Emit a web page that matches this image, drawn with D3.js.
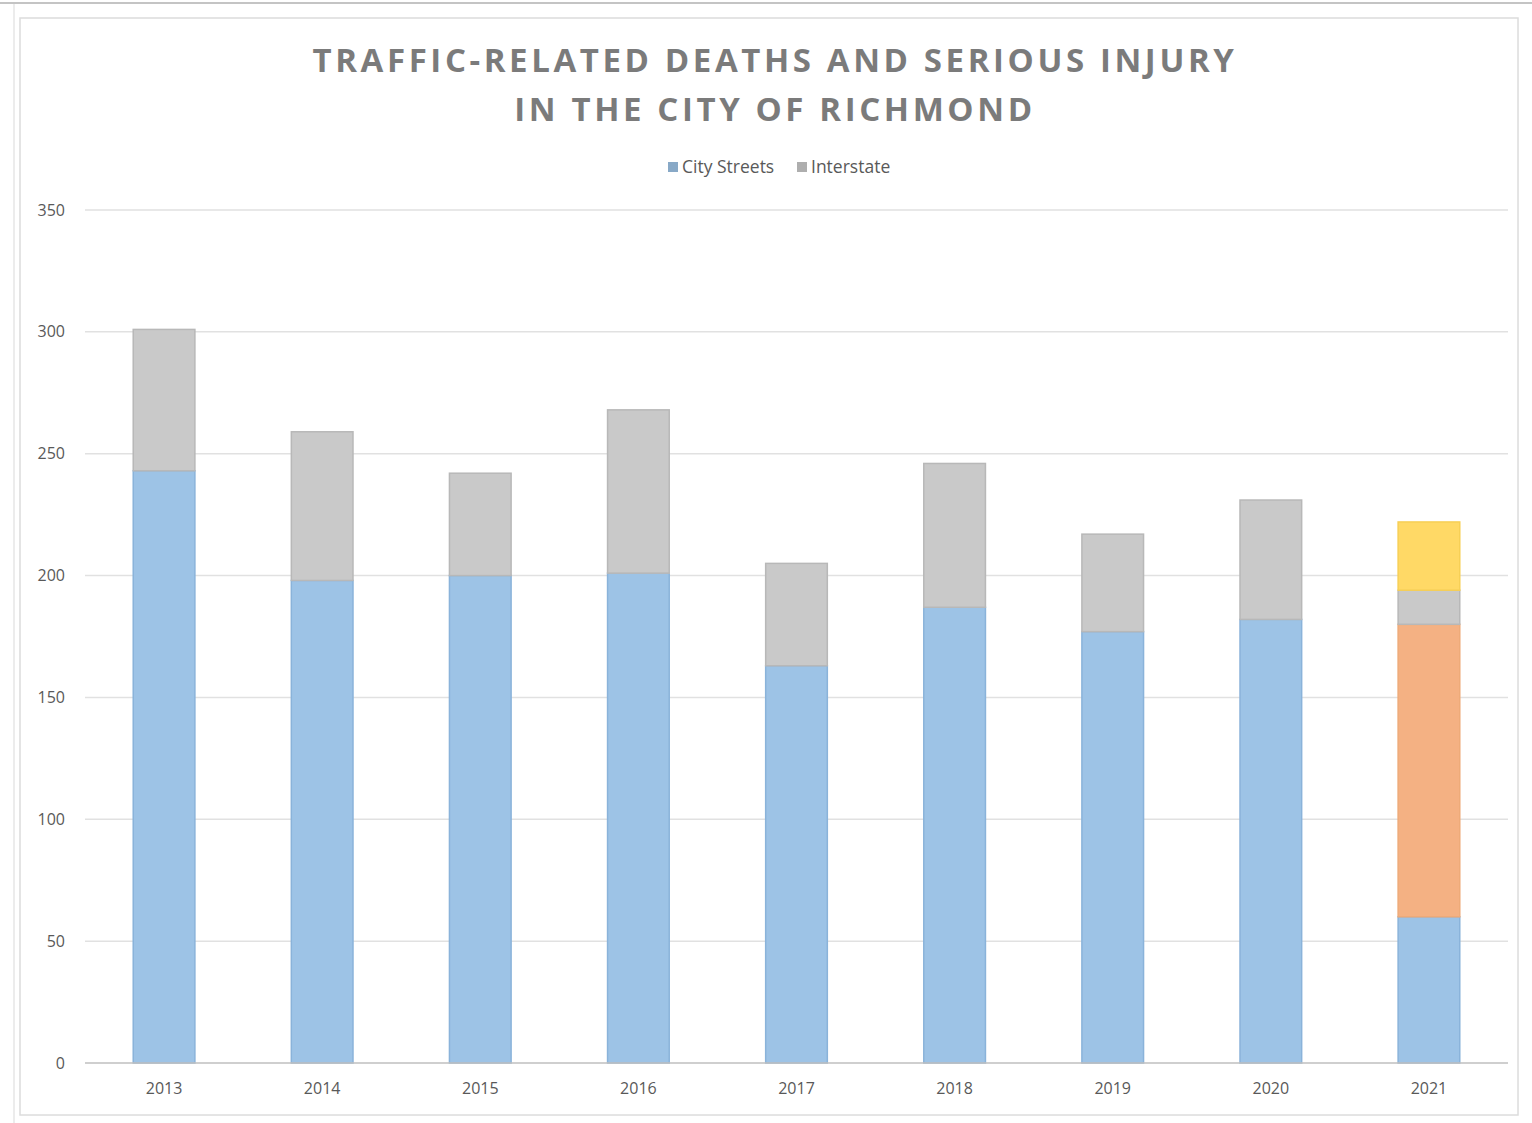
<!DOCTYPE html>
<html>
<head>
<meta charset="utf-8">
<script src="https://cdn.jsdelivr.net/npm/d3@7"></script>
<style>
  body { margin: 0; background: #fff; }
  svg { display: block; font-family: "Open Sans", "Liberation Sans", sans-serif; }
</style>
</head>
<body>
<svg id="chart"></svg>
<script>
const width = 1532, height = 1123;

// data
const years = ['2013', '2014', '2015', '2016', '2017', '2018', '2019', '2020', '2021'];
const cityStreets   = [243, 198, 200, 201, 163, 187, 177, 182, 60];
const cityExtra     = [0, 0, 0, 0, 0, 0, 0, 0, 120];     // orange part of 2021
const interstate    = [58, 61, 42, 67, 42, 59, 40, 49, 14];
const interExtra    = [0, 0, 0, 0, 0, 0, 0, 0, 28];      // yellow part of 2021
const yTicks = [0, 50, 100, 150, 200, 250, 300, 350];

const seriesKeys = ['city', 'cityExtra', 'inter', 'interExtra'];
const fills   = { city: '#9dc3e6', cityExtra: '#f4b183', inter: '#c9c9c9', interExtra: '#ffd966' };
const strokes = { city: '#8ab3da', cityExtra: '#eeaa78', inter: '#b8b8b8', interExtra: '#f7cf55' };

const rows = years.map((y, i) => ({
  year: y, city: cityStreets[i], cityExtra: cityExtra[i], inter: interstate[i], interExtra: interExtra[i]
}));

const svg = d3.select('#chart').attr('width', width).attr('height', height);

// outer frame bits
svg.append('line').attr('x1', 0).attr('x2', width).attr('y1', 3).attr('y2', 3)
  .attr('stroke', '#c4c4c4').attr('stroke-width', 2);
svg.append('line').attr('x1', 14).attr('x2', 14).attr('y1', 4).attr('y2', height)
  .attr('stroke', '#ececec').attr('stroke-width', 2);
svg.append('rect').attr('x', 20).attr('y', 18).attr('width', 1498).attr('height', 1097)
  .attr('fill', '#fff').attr('stroke', '#dcdcdc').attr('stroke-width', 1.5);

const margin = { left: 85, right: 24 };
const x = d3.scaleBand().domain(years).range([margin.left, width - margin.right]).paddingInner(0.61).paddingOuter(0.305);
const y = d3.scaleLinear().domain([0, 350]).range([1063, 210]);

// gridlines
svg.append('g')
  .selectAll('line').data(yTicks.filter(t => t > 0)).join('line')
  .attr('x1', margin.left).attr('x2', width - margin.right)
  .attr('y1', d => y(d)).attr('y2', d => y(d))
  .attr('stroke', '#e1e1e1').attr('stroke-width', 1.5);

// y axis labels
const yAxis = d3.axisLeft(y).tickValues(yTicks).tickSize(0).tickPadding(0);
const gy = svg.append('g').attr('transform', `translate(65,0)`).call(yAxis);
gy.select('.domain').remove();
gy.selectAll('text').attr('fill', '#595959').style('font-size', '16px')
  .style('font-family', '"Open Sans", sans-serif');

// bars
const stack = d3.stack().keys(seriesKeys)(rows);
svg.append('g').selectAll('g').data(stack).join('g')
  .attr('fill', d => fills[d.key]).attr('stroke', d => strokes[d.key]).attr('stroke-width', 1.5)
  .selectAll('rect').data(d => d.filter(p => p[1] > p[0])).join('rect')
  .attr('x', d => x(d.data.year)).attr('width', x.bandwidth())
  .attr('y', d => y(d[1])).attr('height', d => y(d[0]) - y(d[1]));

// baseline
svg.append('line').attr('x1', margin.left).attr('x2', width - margin.right)
  .attr('y1', y(0)).attr('y2', y(0)).attr('stroke', '#bfbfbf').attr('stroke-width', 1.5);

// x axis labels
const xAxis = d3.axisBottom(x).tickSize(0).tickPadding(0);
const gx = svg.append('g').attr('transform', `translate(0,${y(0) + 20})`).call(xAxis);
gx.select('.domain').remove();
gx.selectAll('text').attr('fill', '#595959').style('font-size', '16px')
  .style('font-family', '"Open Sans", sans-serif');

// title
const title = svg.append('text').attr('text-anchor', 'middle').attr('fill', '#7b7b7b')
  .style('font-size', '33px').style('font-weight', 700).style('letter-spacing', '3.6px');
title.append('tspan').attr('x', 775).attr('y', 72).text('TRAFFIC-RELATED DEATHS AND SERIOUS INJURY');
title.append('tspan').attr('x', 775).attr('y', 121).text('IN THE CITY OF RICHMOND');

// legend
const legendItems = [
  { label: 'City Streets', color: fills.city, x: 668 },
  { label: 'Interstate', color: fills.inter, x: 797 }
];
const lg = svg.append('g').selectAll('g').data(legendItems).join('g')
  .attr('transform', d => `translate(${d.x},167)`);
lg.append('rect').attr('x', 0).attr('y', -5).attr('width', 10).attr('height', 10)
  .attr('fill', d => d3.color(d.color).darker(0.4));
lg.append('text').attr('x', 14).attr('y', 0).attr('dy', '0.35em')
  .attr('fill', '#595959').style('font-size', '17.5px').text(d => d.label);
</script>
</body>
</html>
